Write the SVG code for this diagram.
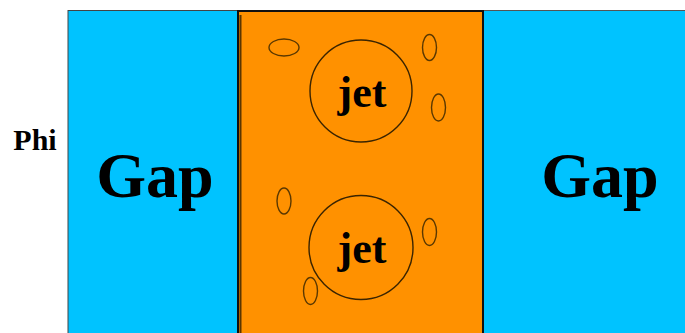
<svg xmlns="http://www.w3.org/2000/svg" width="685" height="333" viewBox="0 0 685 333">
<style>
.gap{fill:#00C3FF;}
.big{font-family:"Liberation Serif","Times New Roman",serif;font-weight:bold;fill:#000;text-anchor:middle;}
.jetc{fill:none;stroke:#3a2400;stroke-width:1.4;}
.blob{fill:none;stroke:#5a3800;stroke-width:1.4;}
</style>
<rect width="685" height="333" fill="#fff"/>
<g id="phi-label">
<text class="big" x="35" y="150" font-size="30">Phi</text>
</g>
<g id="gap-left">
<rect class="gap" x="68" y="10.5" width="170" height="330" stroke="#444" stroke-width="1"/>
<text class="big" x="155" y="197" font-size="64">Gap</text>
</g>
<g id="gap-right">
<rect class="gap" x="483" y="10.5" width="210" height="330" stroke="#555" stroke-width="1"/>
<text class="big" x="600" y="197" font-size="64">Gap</text>
</g>
<g id="jet-region">
<rect x="238" y="11" width="245" height="330" fill="#FF9100" stroke="#111" stroke-width="2"/>
<line x1="240.5" y1="15" x2="240.5" y2="333" stroke="#5a3600" stroke-width="2"/>
<ellipse class="blob" cx="284" cy="47.5" rx="15" ry="8.5"/>
<ellipse class="blob" cx="429.5" cy="47.5" rx="7" ry="13"/>
<ellipse class="blob" cx="438.5" cy="107.5" rx="7" ry="13.5"/>
<ellipse class="blob" cx="284" cy="201" rx="7" ry="13"/>
<ellipse class="blob" cx="429.5" cy="232" rx="7" ry="13.5"/>
<ellipse class="blob" cx="310.5" cy="291" rx="7" ry="13.5"/>
</g>
<g id="jet-top">
<circle class="jetc" cx="361" cy="91" r="51"/>
<text class="big" x="362" y="107" font-size="44">jet</text>
</g>
<g id="jet-bottom">
<circle class="jetc" cx="361" cy="247.5" r="52"/>
<text class="big" x="362" y="263" font-size="44">jet</text>
</g>
</svg>
